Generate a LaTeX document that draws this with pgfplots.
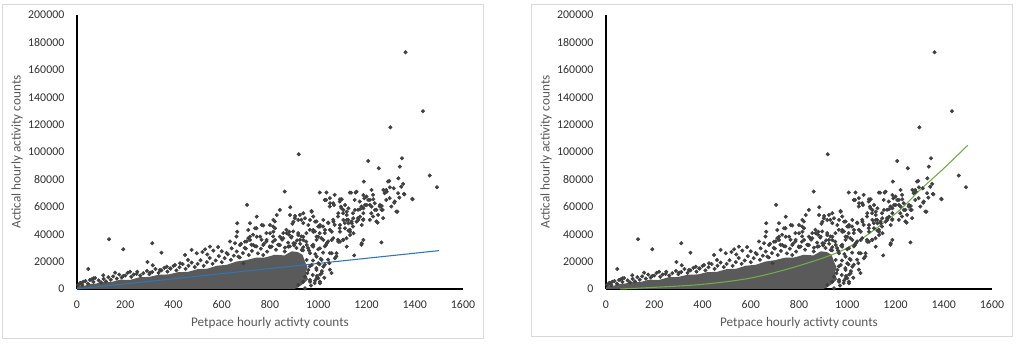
\documentclass[border=0pt]{standalone}
\usepackage{fontspec}
\setmainfont{Carlito}
\usepackage{pgfplots}
\usepackage{pgfplotstable}
\pgfplotsset{compat=1.18}
\definecolor{ptcol}{HTML}{404040}
\definecolor{corecol}{HTML}{5A5A5A}
\definecolor{framecol}{HTML}{D9D9D9}
\definecolor{tickcol}{HTML}{303030}
\definecolor{labcol}{HTML}{595959}
\definecolor{lincol}{HTML}{2E75B6}
\definecolor{polcol}{HTML}{70AD47}

% dense core of the point cloud (outline)
\pgfplotstableread{
x y
0 0
0 1500
10 2500
30 2200
50 3600
80 4000
110 5200
140 5000
180 6800
220 6600
260 8600
300 8800
340 10500
380 10600
420 12300
460 12500
500 14500
540 14800
580 17000
620 17600
660 20000
700 21000
740 22800
780 23000
820 25000
860 24500
890 27500
915 27000
935 25000
945 20000
955 16000
948 11000
958 7000
935 3500
915 1000
900 0
}\coredata

\pgfplotstableread{
x y
1362 172800
1434 129800
1299 118000
919 98300
1347 95400
1207 93400
1338 89300
1251 88100
1462 82800
1352 76700
1492 74300
1189 78400
1289 78400
1313 73500
1282 72300
1275 69900
1355 69400
1390 65800
1317 63800
1324 56500
861 71100
705 61400
1006 70400
1034 70400
1068 68700
1131 70400
1155 70400
884 59700
1262 34000
1179 32300
1149 24500
1296 66300
1331 69900
1344 74700
1282 65000
1303 60200
1200 67500
1207 65000
1214 61400
1227 68700
1234 62600
1220 55300
1241 57800
1248 54100
1255 60200
1227 52900
1214 50500
1269 51700
1262 57800
1241 49300
1144 55300
1165 57800
1179 60200
1186 50500
1165 51700
1151 65000
1172 63800
1027 65000
1048 66300
1048 60200
1062 62600
1089 63800
1096 59000
1103 55300
1082 52900
1062 50500
1041 48500
1020 45600
1027 40800
1048 43200
1068 46800
1089 44400
1110 48100
1124 50500
1138 49300
1144 45600
1131 43200
1117 37100
1103 35900
1082 35900
1062 37100
1041 34700
1027 31100
1048 26200
1041 21400
1027 17700
1048 14100
1055 11600
1075 23800
1076 26100
1118 30900
1180 33400
1187 58900
1111 44300
1132 41800
1035 33400
1090 34500
1000 38200
1007 46700
979 43100
966 50400
820 49300
813 45600
785 40800
772 46400
744 44400
730 39600
710 37100
703 34700
723 32300
744 31100
765 35900
785 34700
799 31100
813 38400
834 32300
848 37100
855 40800
868 43200
879 39600
896 42000
893 47600
903 51700
924 54100
930 50500
938 48100
917 40800
930 38400
951 40800
965 43200
972 57000
979 52900
993 49300
1000 45600
986 42000
1006 40800
1013 37100
993 35900
979 32300
958 29900
937 28200
910 29900
882 31100
861 27400
904 53300
664 48000
664 41800
821 44300
745 38200
717 35800
800 40700
841 38200
869 40700
897 33400
924 35800
938 38200
993 7800
1007 5300
966 6600
945 500
669 23600
690 18800
655 33400
772 24800
47 14600
133 36300
192 29000
312 33400
350 26500
292 19700
314 17300
158 11900
109 10000
220 12600
372 16300
406 17500
448 24800
475 28500
531 29000
551 30900
565 28000
496 26100
641 29700
620 26300
460 21200
427 18800
386 15100
344 13900
303 11900
247 11000
192 9500
68 7800
54 6600
26 5300
12 4200
585 30600
600 27500
520 27000
540 25200
634 34700
661 38300
680 33000
695 30000
5 3000
15 4500
22 2800
35 5800
45 3900
60 7000
68 5200
75 8000
90 6300
100 4800
110 7400
120 5600
130 8600
140 6800
150 9200
165 7600
175 10500
185 8400
200 9800
210 11800
225 8900
235 10600
250 12600
262 9800
275 11500
290 13200
300 10800
312 12400
325 14600
338 11800
350 13600
362 15400
375 12700
388 14800
400 16800
412 13600
425 15900
438 18200
450 14700
462 17000
475 19300
488 16000
500 18300
512 21000
525 16900
538 19600
550 22600
562 18400
575 20800
588 24000
600 19600
612 22500
625 25400
638 21300
650 24300
662 27400
675 23000
688 26200
700 29500
712 24800
725 27800
738 31200
750 26000
762 29400
775 33000
788 27300
800 30500
812 34500
825 28700
838 32000
850 36000
862 30200
875 33800
888 37500
900 31800
912 35500
925 33000
938 30500
950 34600
962 28000
975 31500
988 25500
1000 29000
1010 22000
1020 26500
1005 18000
1015 13000
995 9500
1025 8200
985 4300
970 2500
955 11500
965 16500
978 20800
992 15200
1008 10600
1032 65000
1049 62600
1090 65500
1065 61300
1094 60100
1083 55300
1118 56400
1152 57700
1173 58200
938 55300
973 56400
917 50400
945 51600
987 49100
1021 50400
1042 48000
1063 49100
1090 46700
1118 50400
1139 48000
1159 49100
1007 45500
1028 43100
1056 41800
1090 41800
1125 42600
1146 40700
979 41800
993 38200
1021 35800
1056 35800
1083 34500
1104 35800
1132 39400
880 41800
814 41800
800 46700
814 50400
766 46700
738 44300
717 38200
759 38200
786 35800
821 35800
855 37000
890 38200
917 39400
938 35800
904 33400
952 32100
979 30900
1007 29700
1032 32100
676 32100
696 34500
731 32100
772 32100
807 30900
841 32100
876 30900
931 28500
966 26100
993 23600
1014 21200
1000 18800
1021 16300
993 13900
1014 11500
1000 7800
987 6100
1007 4200
977 10200
959 13900
973 17500
952 21200
966 5300
945 9000
938 5300
917 2900
1046 18800
1056 26100
1069 22400
710 43100
717 48000
745 52800
828 54000
841 57700
883 54000
897 49100
959 46700
1187 68600
1194 61300
1173 52800
1180 46700
1187 35800
1294 78800
1332 80800
1270 72300
1297 74200
1284 71000
1357 69100
1391 65500
1336 66700
1315 63000
1328 56400
1246 48400
1263 60600
1267 57700
1221 72300
1159 71000
1136 70300
1191 66200
1214 65000
1228 65500
1201 61300
1221 60100
1235 57700
1256 61300
1097 65500
1111 61300
1125 58900
1104 57700
1187 55300
1145 51600
1166 50400
1187 50900
1118 54000
1104 50400
1125 48000
}\scatterdata

\pgfplotsset{
  panel/.style={
    scale only axis, width=289.5pt, height=205.5pt,
    xmin=0, xmax=1600, ymin=0, ymax=200000,
    axis x line=bottom, axis y line=left,
    axis line style={black, line width=1.5pt, -},
    xtick={0,200,...,1600}, ytick={0,20000,...,200000},
    major tick length=0pt,
    scaled ticks=false,
    /pgf/number format/fixed,
    /pgf/number format/precision=0,
    /pgf/number format/1000 sep={},
    /pgf/number format/assume math mode=true,
    tick label style={font=\fontsize{8.9}{10}\selectfont, text=tickcol},
    xticklabel style={yshift=-5pt},
    yticklabel style={xshift=-6pt},
    xlabel={Petpace hourly activty counts},
    ylabel={Actical hourly activity counts},
    every axis x label/.style={at={(axis description cs:0.5,0)}, anchor=center, yshift=-25.5pt, font=\fontsize{9.9}{11}\selectfont, text=labcol},
    every axis y label/.style={at={(axis description cs:0,0.5)}, anchor=center, xshift=-45pt, rotate=90, font=\fontsize{9.9}{11}\selectfont, text=labcol},
    clip=false,
    anchor=south west,
  }
}

\begin{document}
\begin{tikzpicture}
\useasboundingbox (0,0) rectangle (765.75pt,261pt);
\fill[white] (0,0) rectangle (765.75pt,261pt);
\draw[framecol, line width=0.75pt] (1.5pt,6.75pt) rectangle (362.25pt,257.25pt);
\draw[framecol, line width=0.75pt] (398.25pt,8.25pt) rectangle (759pt,257.25pt);

\begin{axis}[panel, at={(57.75pt,44.25pt)}]
\addplot[fill=corecol, draw=none] table {\coredata} \closedcycle;
\addplot[only marks, mark=*, mark size=1.3pt, color=ptcol] table {\scatterdata};
\addplot[lincol, line width=0.8pt] coordinates {(0,0) (1500,28000)};
\end{axis}

\begin{axis}[panel, at={(454.5pt,44.25pt)}]
\addplot[fill=corecol, draw=none] table {\coredata} \closedcycle;
\addplot[only marks, mark=*, mark size=1.3pt, color=ptcol] table {\scatterdata};
\addplot[polcol, line width=0.8pt, smooth] coordinates {(60,0) (200,1200) (400,3400) (600,8000) (800,17000) (1000,30000) (1200,55000) (1300,72000) (1400,88000) (1500,105000)};
\end{axis}
\end{tikzpicture}
\end{document}
